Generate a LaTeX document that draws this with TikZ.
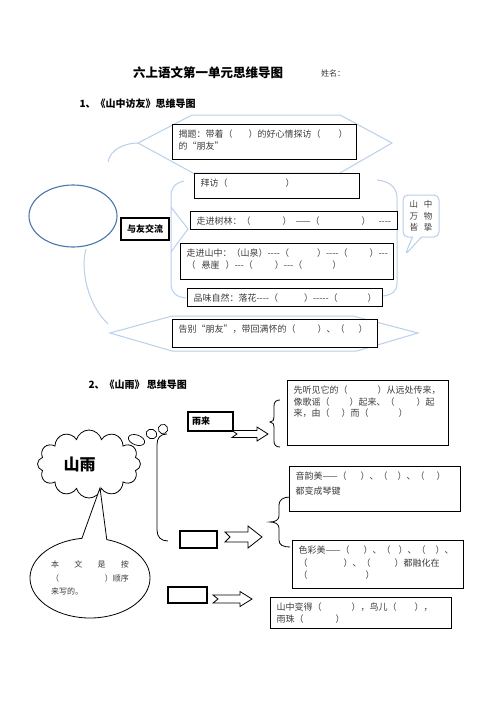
\documentclass[tikz,border=0pt]{standalone}
\usepackage{fontspec}
\setmainfont{Noto Sans CJK SC}[Ligatures=TeXOff]
\usetikzlibrary{shapes.geometric,shapes.symbols,shapes.callouts}
\definecolor{lb}{HTML}{B8D0EA}
\definecolor{db}{HTML}{4A76AC}
\definecolor{tg}{HTML}{3C3C3C}
\newcommand\bt[3]{\parbox[c][\dimexpr#2pt-6pt\relax][t]{\dimexpr#1pt-12pt\relax}{\raggedright\rule{0pt}{10.4pt}#3}}
\newcommand\hs[1]{\hspace*{#1pt}}
\newcommand\narrow[6]{%
 \draw[arr] (#1,#3-#5) -- (#2-#6,#3-#5) -- (#2-#6,#3-#4) -- (#2,#3) -- (#2-#6,#3+#4) -- (#2-#6,#3+#5) -- (#1,#3+#5) -- (#1+5,#3) -- cycle;}
\tikzset{
 box/.style={draw=black, line width=1.1pt, fill=white, inner xsep=6pt, inner ysep=3pt, anchor=north west, text=tg, font=\fontsize{9}{12}\selectfont},
 lbl/.style={draw=lb, line width=1pt},
 arr/.style={draw=black, line width=0.8pt, fill=white},
 brk/.style={draw=black, line width=0.8pt},
}
\begin{document}
\begin{tikzpicture}[x=1pt,y=-1pt]
\fill[white] (0,0) rectangle (496,702);
\useasboundingbox (0,0) rectangle (496,702);

% titles
\node[font=\bfseries\fontsize{12.5}{14}\selectfont] (title) at (208,73) {六上语文第一单元思维导图};
\node[font=\fontsize{8}{9}\selectfont, text=tg] (name) at (333,73) {姓名：};
\node[anchor=west, font=\bfseries\fontsize{10}{11}\selectfont] (s1) at (76,104) {1、《山中访友》思维导图};
\node[anchor=west, font=\bfseries\fontsize{10}{11}\selectfont] (s2) at (85,385) {2、《山雨》 思维导图};

% ---------- section 1: light blue frame ----------
\draw[lbl] (192,115) -- (340,115) -- (392,143) -- (340,173) -- (193,173) -- (138,143) -- cycle;
\draw[lbl] (110,333) -- (172,316) -- (353,316) -- (418,333) -- (357,351) -- (172,351) -- cycle;
\draw[lbl] (108,162) .. controls (110,150) and (124,143) .. (138,143);
\draw[lbl] (86,249) .. controls (80,270) and (88,305) .. (108,324);
\draw[lbl] (184,181) .. controls (175,183) and (171,188) .. (171,196) -- (171,285) .. controls (171,292) and (176,297) .. (186,298);
\draw[lbl] (171,207) -- (188,229) -- (171,252);
\draw[lbl] (377,180) .. controls (390,181) and (397,188) .. (397,198) -- (397,284) .. controls (397,291) and (392,295) .. (383,296);

\node[ellipse, draw=db, line width=1.1pt, minimum width=88, minimum height=62] (core) at (73,216) {};
\node[draw=black, line width=1.1pt, fill=white, minimum width=48, minimum height=22, font=\bfseries\fontsize{9}{10}\selectfont] (yy) at (145,229) {与友交流};

\node[box] (b1) at (172,124) {\bt{184}{35}{\mbox{揭题：带着（\hs{16}）的好心情探访（\hs{18}）}\\的“朋友”}};
\node[box] (b2) at (194,173) {\bt{165}{25}{拜访（\hs{58}）}};
\node[box] (b3) at (190,211) {\bt{207}{18}{\mbox{走进树林：（\hs{32}）\hs{4}——（\hs{42}）\hs{8}----}}};
\node[box] (b4) at (180,243) {\bt{213}{36}{\mbox{走进山中：（山泉）----（\hs{28}）----（\hs{22}）---}\\\mbox{（\hs{6}悬崖\hs{6}）---（\hs{22}）---（\hs{30}）}}};
\node[box] (b5) at (187,288) {\bt{195}{18}{\mbox{品味自然：落花----（\hs{26}）-----（\hs{30}）}}};
\node[box] (b6) at (172,319) {\bt{205}{28}{\mbox{告别“朋友”，带回满怀的（\hs{22}）、（\hs{14}）}}};

\node[rectangle callout, draw=lb, line width=1pt, fill=white, rounded corners=5pt, minimum width=36, minimum height=42, callout absolute pointer={(405,255)}, callout pointer width=9pt, align=center, text=tg, font=\fontsize{8.5}{11.5}\selectfont] (wanwu) at (421,216) {山\hs{6}中\\万\hs{6}物\\皆\hs{6}挚};

% ---------- section 2 ----------
\node[cloud, cloud puffs=12, draw=black, line width=0.8pt, minimum width=103, minimum height=68, font=\bfseries\fontsize{16}{18}\selectfont] (cl) at (89,464) {\makebox[0pt]{山雨\hs{19}}};
\node[ellipse, draw=black, line width=0.7pt, minimum width=17, minimum height=10, rotate=-20] (t1) at (136.5,440) {};
\node[ellipse, draw=black, line width=0.7pt, minimum width=11, minimum height=8, rotate=-20] (t2) at (151.5,434) {};
\node[ellipse, draw=black, line width=0.7pt, minimum width=6, minimum height=4.5, rotate=-20] (t3) at (163,429) {};
\coordinate (tip) at (100,488);
\node[ellipse callout, draw=black, line width=0.8pt, fill=white, minimum width=120, minimum height=80, callout absolute pointer={(tip)}, callout pointer arc=24, text=tg, font=\fontsize{8}{13.5}\selectfont, align=left] (ord) at (90,578) {\hbox to 78pt{本\hfill 文\hfill 是\hfill 按}\\\hbox to 78pt{（\hfill ）顺序}\\来写的。};

\draw[brk] (167,434) .. controls (160,434) and (157,438) .. (157,445) -- (157,530) .. controls (157,537) and (161,541) .. (168,541);

\node[draw=black, line width=1.1pt, fill=white, minimum width=45, minimum height=19, font=\bfseries\fontsize{9}{10}\selectfont] (yl) at (210.5,421.5) {\makebox[37pt][l]{雨来}};
\node[draw=black, line width=1.1pt, minimum width=37, minimum height=17] (e1) at (198.5,539.5) {};
\node[draw=black, line width=1.1pt, minimum width=39, minimum height=16] (e2) at (187.5,595) {};

\narrow{232}{268}{434}{7}{3.5}{11}
\narrow{225}{262}{537}{11}{5}{14}
\narrow{213}{252}{599}{7.5}{4}{12}

\draw[brk] (280,400) .. controls (276,400) and (274,402) .. (274,406) -- (274,417) .. controls (274,420) and (273,422) .. (270,422) .. controls (273,422) and (274,424) .. (274,428) -- (274,441) .. controls (274,445) and (276,447) .. (280,447);
\draw[brk] (290,497) .. controls (283,497) and (279,500) .. (279,505) -- (279,516) .. controls (279,520) and (275,522) .. (270,522) .. controls (275,522) and (279,524) .. (279,528) -- (279,540) .. controls (279,545) and (283,547) .. (290,547);

\node[box] (c1) at (287,380) {\bt{161}{65}{\fontsize{9}{11.5}\selectfont\mbox{先听见它的（\hs{30}）从远处传来，}\\\mbox{像歌谣（\hs{20}）起来、（\hs{22}）起}\\\mbox{来，由（\hs{12}）而（\hs{30}）}}};
\node[box] (c2) at (289,466) {\bt{171}{45}{\fontsize{9}{14.5}\selectfont\mbox{音韵美——（\hs{14}）、（\hs{10}）、（\hs{12}）}\\都变成琴键}};
\node[box] (c3) at (292,540) {\bt{171}{48}{\fontsize{9}{12.5}\selectfont\mbox{色彩美——（\hs{14}）、（\hs{8}）、（\hs{10}）、}\\\mbox{（\hs{36}）、（\hs{24}）都融化在}\\（\hs{58}）}};
\node[box] (c4) at (270,597) {\bt{181}{31}{\mbox{山中变得（\hs{30}），鸟儿（\hs{18}），}\\雨珠（\hs{32}）}};
\end{tikzpicture}
\end{document}
